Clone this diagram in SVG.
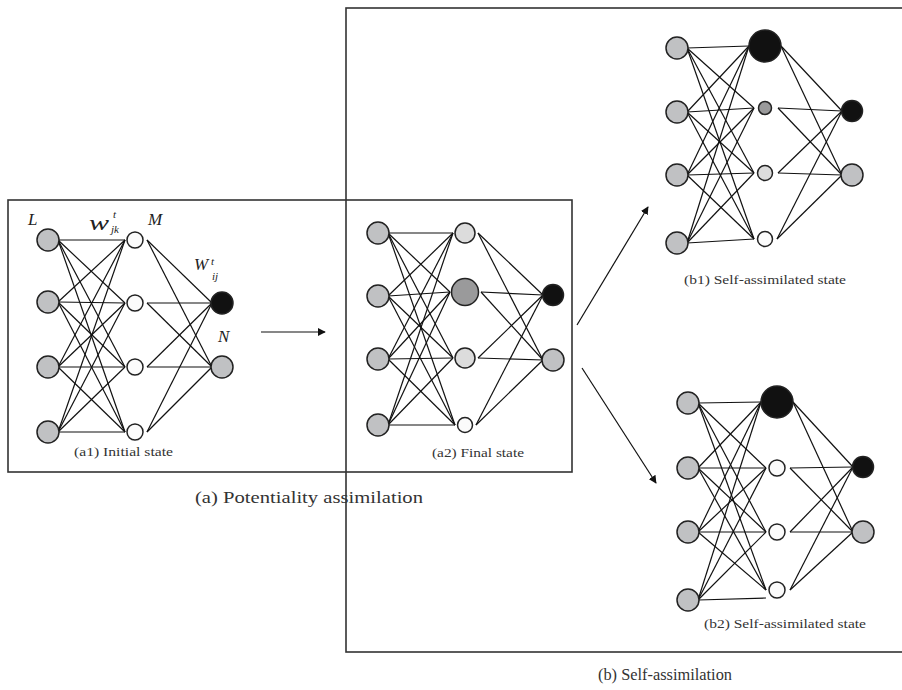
<svg xmlns="http://www.w3.org/2000/svg" width="902" height="690" viewBox="0 0 902 690">
<style>
.frame{fill:none;stroke:#333;stroke-width:1.6}
.n{stroke:#222;stroke-width:1.5}
.g{fill:#c0c1c3}.lg{fill:#dcdcdc}.w{fill:#fbfbfb}.dg{fill:#9a9a9b}.k{fill:#111}
#connectors line{stroke:#111;stroke-width:1.2}
.sym{font-family:"Liberation Serif",serif;font-style:italic;fill:#222}
.lab{font-family:"Liberation Serif",serif;fill:#333}
.arr{stroke:#222;stroke-width:1.2;fill:none}
</style>
<defs>
<marker id="ah" viewBox="0 0 10 10" refX="9" refY="5" markerWidth="8" markerHeight="8" markerUnits="userSpaceOnUse" orient="auto">
<path d="M0,0 L10,5 L0,10 Z" fill="#111"/>
</marker>
</defs>
<rect class="frame" x="8" y="200" width="564" height="272"/>
<rect class="frame" x="346" y="8" width="570" height="644"/>
<g id="connectors">
<!-- a1 L-M -->
<line x1="58" y1="240" x2="125" y2="240"/><line x1="58" y1="240" x2="125" y2="303"/><line x1="58" y1="240" x2="125" y2="367"/><line x1="58" y1="240" x2="125" y2="432"/>
<line x1="58" y1="302" x2="125" y2="240"/><line x1="58" y1="302" x2="125" y2="303"/><line x1="58" y1="302" x2="125" y2="367"/><line x1="58" y1="302" x2="125" y2="432"/>
<line x1="58" y1="367" x2="125" y2="240"/><line x1="58" y1="367" x2="125" y2="303"/><line x1="58" y1="367" x2="125" y2="367"/><line x1="58" y1="367" x2="125" y2="432"/>
<line x1="58" y1="432" x2="125" y2="240"/><line x1="58" y1="432" x2="125" y2="303"/><line x1="58" y1="432" x2="125" y2="367"/><line x1="58" y1="432" x2="125" y2="432"/>
<!-- a1 M-N -->
<line x1="147" y1="240" x2="212" y2="303"/><line x1="147" y1="240" x2="212" y2="367"/>
<line x1="147" y1="303" x2="212" y2="303"/><line x1="147" y1="303" x2="212" y2="367"/>
<line x1="147" y1="367" x2="212" y2="303"/><line x1="147" y1="367" x2="212" y2="367"/>
<line x1="147" y1="432" x2="212" y2="303"/><line x1="147" y1="432" x2="212" y2="367"/>
<!-- a2 L-M -->
<line x1="388" y1="233" x2="453" y2="233"/><line x1="388" y1="233" x2="450" y2="292"/><line x1="388" y1="233" x2="453" y2="358"/><line x1="388" y1="233" x2="455" y2="425"/>
<line x1="388" y1="296" x2="453" y2="233"/><line x1="388" y1="296" x2="450" y2="292"/><line x1="388" y1="296" x2="453" y2="358"/><line x1="388" y1="296" x2="455" y2="425"/>
<line x1="388" y1="359" x2="453" y2="233"/><line x1="388" y1="359" x2="450" y2="292"/><line x1="388" y1="359" x2="453" y2="358"/><line x1="388" y1="359" x2="455" y2="425"/>
<line x1="388" y1="425" x2="453" y2="233"/><line x1="388" y1="425" x2="450" y2="292"/><line x1="388" y1="425" x2="453" y2="358"/><line x1="388" y1="425" x2="455" y2="425"/>
<!-- a2 M-N -->
<line x1="478" y1="233" x2="543" y2="295"/><line x1="478" y1="233" x2="543" y2="360"/>
<line x1="481" y1="292" x2="543" y2="295"/><line x1="481" y1="292" x2="543" y2="360"/>
<line x1="478" y1="358" x2="543" y2="295"/><line x1="478" y1="358" x2="543" y2="360"/>
<line x1="476" y1="425" x2="543" y2="295"/><line x1="476" y1="425" x2="543" y2="360"/>
<!-- b1 L-M -->
<line x1="687" y1="48" x2="749" y2="46"/><line x1="687" y1="48" x2="754" y2="108"/><line x1="687" y1="48" x2="754" y2="173"/><line x1="687" y1="48" x2="754" y2="239"/>
<line x1="687" y1="112" x2="749" y2="46"/><line x1="687" y1="112" x2="754" y2="108"/><line x1="687" y1="112" x2="754" y2="173"/><line x1="687" y1="112" x2="754" y2="239"/>
<line x1="687" y1="175" x2="749" y2="46"/><line x1="687" y1="175" x2="754" y2="108"/><line x1="687" y1="175" x2="754" y2="173"/><line x1="687" y1="175" x2="754" y2="239"/>
<line x1="687" y1="243" x2="749" y2="46"/><line x1="687" y1="243" x2="754" y2="108"/><line x1="687" y1="243" x2="754" y2="173"/><line x1="687" y1="243" x2="754" y2="239"/>
<!-- b1 M-N -->
<line x1="781" y1="46" x2="842" y2="111"/><line x1="781" y1="46" x2="842" y2="175"/>
<line x1="778" y1="108" x2="842" y2="111"/><line x1="778" y1="108" x2="842" y2="175"/>
<line x1="778" y1="173" x2="842" y2="111"/><line x1="778" y1="173" x2="842" y2="175"/>
<line x1="777" y1="239" x2="842" y2="111"/><line x1="777" y1="239" x2="842" y2="175"/>
<!-- b2 L-M -->
<line x1="698" y1="403" x2="761" y2="402"/><line x1="698" y1="403" x2="766" y2="468"/><line x1="698" y1="403" x2="766" y2="532"/><line x1="698" y1="403" x2="766" y2="590"/>
<line x1="698" y1="468" x2="761" y2="402"/><line x1="698" y1="468" x2="766" y2="468"/><line x1="698" y1="468" x2="766" y2="532"/><line x1="698" y1="468" x2="766" y2="590"/>
<line x1="698" y1="532" x2="761" y2="402"/><line x1="698" y1="532" x2="766" y2="468"/><line x1="698" y1="532" x2="766" y2="532"/><line x1="698" y1="532" x2="766" y2="590"/>
<line x1="698" y1="600" x2="761" y2="402"/><line x1="698" y1="600" x2="766" y2="468"/><line x1="698" y1="600" x2="766" y2="532"/><line x1="698" y1="600" x2="766" y2="598"/>
<!-- b2 M-N -->
<line x1="793" y1="402" x2="853" y2="467"/><line x1="793" y1="402" x2="853" y2="532"/>
<line x1="790" y1="468" x2="853" y2="467"/><line x1="790" y1="468" x2="853" y2="532"/>
<line x1="790" y1="532" x2="853" y2="467"/><line x1="790" y1="532" x2="853" y2="532"/>
<line x1="790" y1="590" x2="853" y2="467"/><line x1="790" y1="590" x2="853" y2="532"/>
<!-- process arrows -->
<line class="arr" x1="261" y1="332" x2="325" y2="332" marker-end="url(#ah)"/>
<line class="arr" x1="577" y1="325" x2="648" y2="207" marker-end="url(#ah)"/>
<line class="arr" x1="582" y1="368" x2="656" y2="483" marker-end="url(#ah)"/>
</g>
<!-- a1 nodes -->
<g id="a1-L1"><circle class="n g" cx="48" cy="240" r="11"/></g>
<g id="a1-L2"><circle class="n g" cx="48" cy="302" r="11"/></g>
<g id="a1-L3"><circle class="n g" cx="48" cy="367" r="11"/></g>
<g id="a1-L4"><circle class="n g" cx="48" cy="432" r="11"/></g>
<g id="a1-M1"><circle class="n w" cx="135" cy="240" r="8"/></g>
<g id="a1-M2"><circle class="n w" cx="135" cy="303" r="8"/></g>
<g id="a1-M3"><circle class="n w" cx="135" cy="367" r="8"/></g>
<g id="a1-M4"><circle class="n w" cx="135" cy="432" r="8"/></g>
<g id="a1-N1"><circle class="n k" cx="222" cy="303" r="11"/></g>
<g id="a1-N2"><circle class="n g" cx="222" cy="367" r="11"/></g>
<!-- a2 nodes -->
<g id="a2-L1"><circle class="n g" cx="378" cy="233" r="11"/></g>
<g id="a2-L2"><circle class="n g" cx="378" cy="296" r="11"/></g>
<g id="a2-L3"><circle class="n g" cx="378" cy="359" r="11"/></g>
<g id="a2-L4"><circle class="n g" cx="378" cy="425" r="11"/></g>
<g id="a2-M1"><circle class="n lg" cx="465" cy="233" r="10"/></g>
<g id="a2-M2"><circle class="n dg" cx="465" cy="292" r="13.5"/></g>
<g id="a2-M3"><circle class="n lg" cx="465" cy="358" r="10"/></g>
<g id="a2-M4"><circle class="n w" cx="465" cy="425" r="7.5"/></g>
<g id="a2-N1"><circle class="n k" cx="553" cy="295" r="10.5"/></g>
<g id="a2-N2"><circle class="n g" cx="553" cy="360" r="11"/></g>
<!-- b1 nodes -->
<g id="b1-L1"><circle class="n g" cx="677" cy="48" r="11"/></g>
<g id="b1-L2"><circle class="n g" cx="677" cy="112" r="11"/></g>
<g id="b1-L3"><circle class="n g" cx="677" cy="175" r="11"/></g>
<g id="b1-L4"><circle class="n g" cx="677" cy="243" r="11"/></g>
<g id="b1-M1"><circle class="n k" cx="765" cy="46" r="16"/></g>
<g id="b1-M2"><circle class="n dg" cx="765" cy="108" r="6.5"/></g>
<g id="b1-M3"><circle class="n lg" cx="765" cy="173" r="7.5"/></g>
<g id="b1-M4"><circle class="n w" cx="765" cy="239" r="7.5"/></g>
<g id="b1-N1"><circle class="n k" cx="852" cy="111" r="10.5"/></g>
<g id="b1-N2"><circle class="n g" cx="852" cy="175" r="11"/></g>
<!-- b2 nodes -->
<g id="b2-L1"><circle class="n g" cx="688" cy="403" r="11"/></g>
<g id="b2-L2"><circle class="n g" cx="688" cy="468" r="11"/></g>
<g id="b2-L3"><circle class="n g" cx="688" cy="532" r="11"/></g>
<g id="b2-L4"><circle class="n g" cx="688" cy="600" r="11"/></g>
<g id="b2-M1"><circle class="n k" cx="777" cy="402" r="16"/></g>
<g id="b2-M2"><circle class="n w" cx="777" cy="468" r="8"/></g>
<g id="b2-M3"><circle class="n w" cx="777" cy="532" r="8"/></g>
<g id="b2-M4"><circle class="n w" cx="777" cy="590" r="8"/></g>
<g id="b2-N1"><circle class="n k" cx="863" cy="467" r="10.5"/></g>
<g id="b2-N2"><circle class="n g" cx="863" cy="532" r="11"/></g>
<!-- symbols -->
<g id="symbols">
<text class="sym" x="28" y="225" font-size="17">L</text>
<text class="sym" x="89" y="230" font-size="20" textLength="20" lengthAdjust="spacingAndGlyphs">w</text>
<text class="sym" x="113" y="218" font-size="11">t</text>
<text class="sym" x="111" y="233" font-size="11">jk</text>
<text class="sym" x="148" y="225" font-size="17">M</text>
<text class="sym" x="194" y="270" font-size="17">W</text>
<text class="sym" x="211" y="265" font-size="11">t</text>
<text class="sym" x="212" y="280" font-size="11">ij</text>
<text class="sym" x="218" y="342" font-size="17">N</text>
</g>
<g id="labels">
<text class="lab" x="74" y="456" font-size="13" textLength="99" lengthAdjust="spacingAndGlyphs">(a1) Initial state</text>
<text class="lab" x="432" y="457" font-size="13" textLength="92" lengthAdjust="spacingAndGlyphs">(a2) Final state</text>
<text class="lab" x="684" y="284" font-size="13" textLength="162" lengthAdjust="spacingAndGlyphs">(b1) Self-assimilated state</text>
<text class="lab" x="704" y="628" font-size="13" textLength="162" lengthAdjust="spacingAndGlyphs">(b2) Self-assimilated state</text>
<text class="lab" x="195" y="503" font-size="17" textLength="228" lengthAdjust="spacingAndGlyphs">(a) Potentiality assimilation</text>
<text class="lab" x="598" y="680" font-size="16" textLength="134" lengthAdjust="spacingAndGlyphs">(b) Self-assimilation</text>
</g>
</svg>
